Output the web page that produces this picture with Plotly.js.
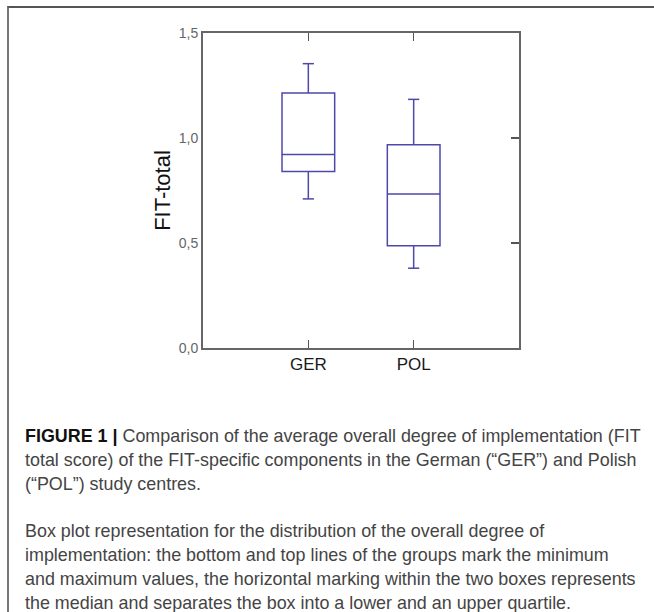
<!DOCTYPE html>
<html>
<head>
<meta charset="utf-8">
<script src="https://cdn.plot.ly/plotly-3.0.1.min.js"></script>
<style>
  html, body { margin: 0; padding: 0; background: #fff; }
  #wrap { position: relative; width: 654px; height: 612px; overflow: hidden; }
  #frame { position: absolute; left: 7px; top: 6px; right: 0; bottom: 0;
           border-top: 2px solid #555; border-left: 2px solid #777; }
  #chart { position: absolute; left: 0; top: 0; width: 654px; height: 612px; }
  #caption { position: absolute; left: 25px; top: 425px; width: 628px;
             font-family: "Liberation Sans", Arial, sans-serif; font-size: 17.9px;
             line-height: 23.8px; color: #444; white-space: nowrap; }
  #caption b { color: #111; }
</style>
</head>
<body>
<div id="wrap">
  <div id="frame"></div>
  <div id="chart"></div>
  <div id="caption">
    <b>FIGURE 1 |</b> Comparison of the average overall degree of implementation (FIT<br>
    total score) of the FIT-specific components in the German (“GER”) and Polish<br>
    (“POL”) study centres.<br>
    <br>
    Box plot representation for the distribution of the overall degree of<br>
    implementation: the bottom and top lines of the groups mark the minimum<br>
    and maximum values, the horizontal marking within the two boxes represents<br>
    the median and separates the box into a lower and an upper quartile.
  </div>
</div>
<script>
// Data
const categories = ["GER", "POL"];
const minVals    = [0.71, 0.38];
const q1Vals     = [0.84, 0.487];
const medianVals = [0.922, 0.733];
const q3Vals     = [1.214, 0.968];
const maxVals    = [1.354, 1.184];
const yTickVals  = [0, 0.5, 1.0, 1.5];
const yTickText  = ["0,0", "0,5", "1,0", "1,5"];

const boxColor = "#4d48ab";

const boxTrace = {
  type: "box",
  x: categories,
  q1: q1Vals,
  median: medianVals,
  q3: q3Vals,
  lowerfence: minVals,
  upperfence: maxVals,
  width: 0.5,
  whiskerwidth: 0,
  fillcolor: "rgba(0,0,0,0)",
  line: { color: boxColor, width: 1.5 },
  hoverinfo: "skip",
  showlegend: false
};

const capTrace = {
  type: "scatter",
  mode: "markers",
  x: categories.concat(categories),
  y: minVals.concat(maxVals),
  marker: { symbol: "line-ew", size: 8, line: { color: boxColor, width: 1.5 } },
  hoverinfo: "skip",
  showlegend: false,
  yaxis: "y2"
};

const layout = {
  width: 654,
  height: 612,
  margin: { l: 203, r: 135, t: 33, b: 264 },
  paper_bgcolor: "rgba(0,0,0,0)",
  plot_bgcolor: "rgba(0,0,0,0)",
  showlegend: false,
  xaxis: {
    type: "category",
    range: [-1, 2],
    showline: true, linecolor: "#666", linewidth: 2,
    mirror: "ticks",
    ticks: "inside", ticklen: 8, tickwidth: 1.5, tickcolor: "#555",
    showgrid: false, zeroline: false,
    tickfont: { family: "Liberation Sans, Arial, sans-serif", size: 17, color: "#1a1a1a" }
  },
  yaxis: {
    range: [0, 1.5],
    tickvals: yTickVals, ticktext: yTickText,
    showline: true, linecolor: "#666", linewidth: 2,
    ticks: "", showgrid: false, zeroline: false,
    tickfont: { family: "Liberation Sans, Arial, sans-serif", size: 14, color: "#666" },
    title: { text: "FIT-total", standoff: 2,
             font: { family: "Liberation Sans, Arial, sans-serif", size: 22, color: "#111" } }
  },
  yaxis2: {
    overlaying: "y", side: "right", anchor: "x",
    range: [0, 1.5],
    tickvals: yTickVals,
    showline: true, linecolor: "#666", linewidth: 2,
    ticks: "inside", ticklen: 8, tickwidth: 1.5, tickcolor: "#555",
    showticklabels: false, showgrid: false, zeroline: false
  }
};

Plotly.newPlot("chart", [boxTrace, capTrace], layout, { displayModeBar: false, staticPlot: true });
</script>
</body>
</html>
